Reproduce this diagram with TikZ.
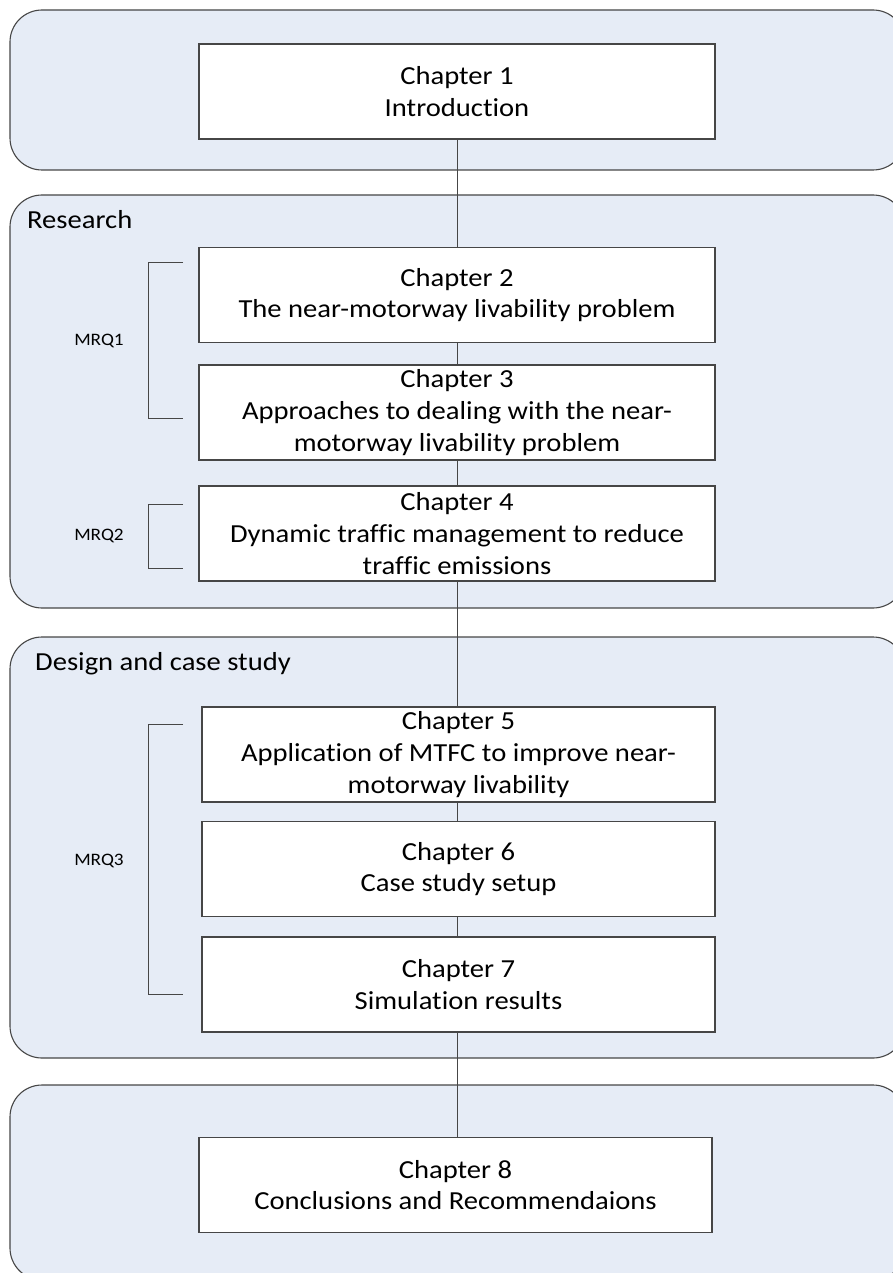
\documentclass[tikz,border=0pt]{standalone}
\usepackage{fontspec}
\setmainfont{Carlito}[FakeStretch=1.1, Ligatures=NoCommon]
\definecolor{groupfill}{RGB}{230,236,246}
\definecolor{edgegray}{RGB}{70,70,70}
\begin{document}
\begin{tikzpicture}[x=1pt,y=-1pt,
  group/.style={draw=edgegray, line width=1.1pt, fill=groupfill, rounded corners=32pt},
  chapter/.style={draw=edgegray, line width=1.1pt, fill=white, inner sep=0pt,
    align=center, minimum height=95pt, font=\fontsize{26}{31.7}\selectfont},
  wide/.style={minimum width=516pt},
  narrow/.style={minimum width=513pt},
  grouplabel/.style={anchor=base west, inner sep=0pt, font=\fontsize{26}{31.7}\selectfont},
  mrq/.style={inner sep=0pt, font=\fontsize{17.5}{21}\selectfont},
  bracket/.style={draw=edgegray, line width=0.9pt},
  link/.style={draw=edgegray, line width=1pt}
]
\useasboundingbox (0,0) rectangle (893,1273);
\clip (0,0) rectangle (893,1273);

% phase panels
\draw[group] (10,10) rectangle (905,170);
\draw[group] (10,195) rectangle (905,608);
\draw[group] (10,637) rectangle (905,1058);
\draw[group] (10,1085) rectangle (905,1280);

\node[grouplabel] (research) at (27,229) {Research};
\node[grouplabel] (design) at (35,670) {Design and case study};

% chapters
\node[chapter,wide] (c1) at (457,91.5) {Chapter 1\\Introduction};
\node[chapter,wide] (c2) at (457,295) {Chapter 2\\The near-motorway livability problem};
\node[chapter,wide] (c3) at (457,412.5) {Chapter 3\\Approaches to dealing with the near-\\motorway livability problem};
\node[chapter,wide] (c4) at (457,533.5) {Chapter 4\\Dynamic traffic management to reduce\\traffic emissions};
\node[chapter,narrow] (c5) at (458.5,754.5) {Chapter 5\\Application of MTFC to improve near-\\motorway livability};
\node[chapter,narrow] (c6) at (458.5,869) {Chapter 6\\Case study setup};
\node[chapter,narrow] (c7) at (458.5,984.5) {Chapter 7\\Simulation results};
\node[chapter,narrow] (c8) at (455.5,1185) {Chapter 8\\Conclusions and Recommendaions};

% reading order, one vertical spine
\draw[link] (c1.south) -- (c1.south |- c2.north);
\draw[link] (c2.south) -- (c2.south |- c3.north);
\draw[link] (c3.south) -- (c3.south |- c4.north);
\draw[link] (c4.south) -- (c4.south |- c5.north);
\draw[link] (c4.south |- c5.south) -- (c4.south |- c6.north);
\draw[link] (c4.south |- c6.south) -- (c4.south |- c7.north);
\draw[link] (c4.south |- c7.south) -- (c4.south |- c8.north);

% research question brackets
\draw[bracket] (183,262) -- (148,262) -- (148,418) -- (183,418);
\draw[bracket] (183,504) -- (148,504) -- (148,568) -- (183,568);
\draw[bracket] (183,724) -- (148,724) -- (148,994) -- (183,994);

\node[mrq] (mrq1) at (99,341) {MRQ1};
\node[mrq] (mrq2) at (99,536) {MRQ2};
\node[mrq] (mrq3) at (99,861) {MRQ3};
\end{tikzpicture}
\end{document}
